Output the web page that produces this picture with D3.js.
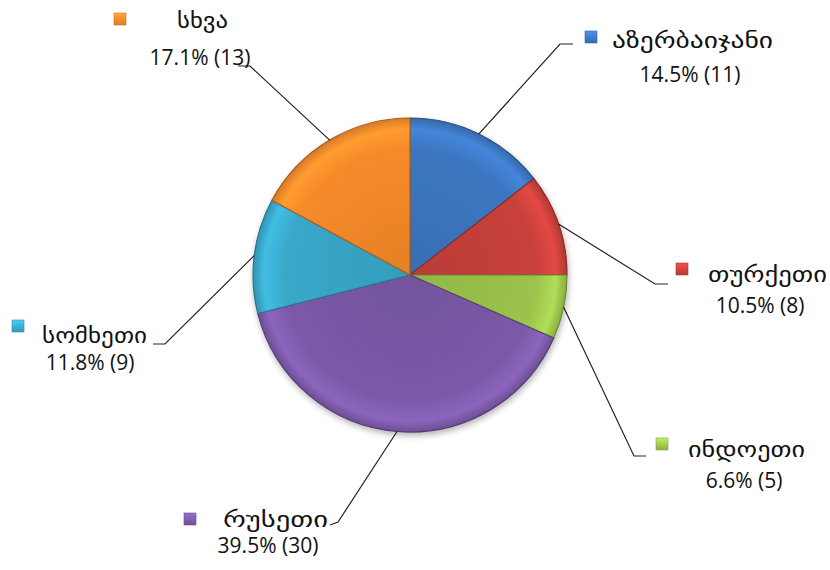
<!DOCTYPE html>
<html><head><meta charset="utf-8">
<script src="https://cdn.jsdelivr.net/npm/d3@7"></script>
<style>html,body{margin:0;padding:0;background:#fff;}svg{display:block;}</style>
</head><body>
<svg id="chart" width="830" height="570"></svg>
<script>
const categories = ["აზერბაიჯანი", "თურქეთი", "ინდოეთი", "რუსეთი", "სომხეთი", "სხვა"];
const counts = [11, 8, 5, 30, 9, 13];
const baseColors = ["#3c76c0", "#c8403b", "#9cc34c", "#7c59a8", "#39a8c9", "#f68a2a"];

// label layout (annotation placement)
const layout = [
  {mx: 585, my: 31, nx: 612, ny: 48, nw: 161, px: 690, py: 82, elbow: [560, 44], end: [573, 44]},
  {mx: 676, my: 263, nx: 708, ny: 282, nw: 119, px: 760, py: 313, elbow: [655, 284], end: [668, 284]},
  {mx: 656, my: 438, nx: 688, ny: 457, nw: 117, px: 744, py: 488, elbow: [634, 456], end: [646, 456]},
  {mx: 184, my: 513, nx: 223, ny: 527, nw: 105, px: 268, py: 553, elbow: [338, 522], end: [330, 525]},
  {mx: 12, my: 320, nx: 42, ny: 343, nw: 105, px: 90, py: 370, elbow: [165, 344], end: [153, 344]},
  {mx: 114, my: 13, nx: 177, ny: 28, nw: 51, px: 200, py: 65, elbow: [250, 66], end: [238, 66]}
];

const total = d3.sum(counts);
const data = categories.map((c, i) => ({name: c, value: counts[i], color: baseColors[i], i}));

const svg = d3.select("#chart");
const cx = 410, cy = 275, R = 157;
const defs = svg.append("defs");

data.forEach(d => {
  const base = d3.color(d.color);
  const g = defs.append("radialGradient").attr("id", "g" + d.i)
    .attr("gradientUnits", "userSpaceOnUse").attr("cx", 0).attr("cy", 0).attr("r", R);
  g.append("stop").attr("offset", "0%").attr("stop-color", base.darker(0.2));
  g.append("stop").attr("offset", "80%").attr("stop-color", base);
  g.append("stop").attr("offset", "93%").attr("stop-color", base.brighter(0.35));
  g.append("stop").attr("offset", "100%").attr("stop-color", base.darker(0.35));
  const m = defs.append("linearGradient").attr("id", "m" + d.i).attr("x1", 0).attr("y1", 0).attr("x2", 0).attr("y2", 1);
  m.append("stop").attr("offset", "0%").attr("stop-color", base.brighter(0.6));
  m.append("stop").attr("offset", "100%").attr("stop-color", base.darker(0.3));
});
const f = defs.append("filter").attr("id", "sh").attr("x", "-20%").attr("y", "-20%").attr("width", "140%").attr("height", "140%");
f.append("feGaussianBlur").attr("in", "SourceAlpha").attr("stdDeviation", 3).attr("result", "b");
f.append("feOffset").attr("in", "b").attr("dx", 1).attr("dy", 3).attr("result", "o");
f.append("feComponentTransfer").attr("in", "o").attr("result", "o2").append("feFuncA").attr("type", "linear").attr("slope", 0.3);
const fm = f.append("feMerge"); fm.append("feMergeNode").attr("in", "o2"); fm.append("feMergeNode").attr("in", "SourceGraphic");

const pie = d3.pie().sort(null).value(d => d.value);
const arcs = pie(data);
const arc = d3.arc().innerRadius(0).outerRadius(R);
const edge = d3.arc().innerRadius(R).outerRadius(R);

const gp = svg.append("g").attr("transform", `translate(${cx},${cy})`);
gp.append("g").attr("filter", "url(#sh)").selectAll("path").data(arcs).join("path")
  .attr("d", arc)
  .attr("fill", d => `url(#g${d.data.i})`)
  .attr("stroke", d => d3.color(d.data.color).darker(1))
  .attr("stroke-width", 1.2)
  .attr("stroke-linejoin", "round");

// leader lines
const lines = svg.append("g");
arcs.forEach((a, k) => {
  const c = edge.centroid(a);
  const L = layout[k];
  lines.append("path")
    .attr("d", d3.line()([[cx + c[0], cy + c[1]], L.elbow, L.end]))
    .attr("fill", "none").attr("stroke", "#222").attr("stroke-width", 1.2);
});

// labels
const lab = svg.append("g");
arcs.forEach((a, k) => {
  const L = layout[k], d = a.data;
  lab.append("rect").attr("x", L.mx).attr("y", L.my).attr("width", 12).attr("height", 12)
    .attr("fill", `url(#m${d.i})`).attr("stroke", d3.color(d.color).darker(0.5)).attr("stroke-width", 0.6);
  lab.append("text").attr("x", L.nx).attr("y", L.ny).text(d.name)
    .attr("font-family", "'DejaVu Sans', sans-serif").attr("font-size", 22).attr("fill", "#111")
    .attr("textLength", L.nw).attr("lengthAdjust", "spacingAndGlyphs");
  const pct = (d.value / total * 100).toFixed(1) + "% (" + d.value + ")";
  lab.append("text").attr("x", L.px).attr("y", L.py).attr("text-anchor", "middle").text(pct)
    .attr("font-family", "'Open Sans', 'Liberation Sans', sans-serif").attr("font-size", 21).attr("fill", "#111");
});
</script>
</body></html>
